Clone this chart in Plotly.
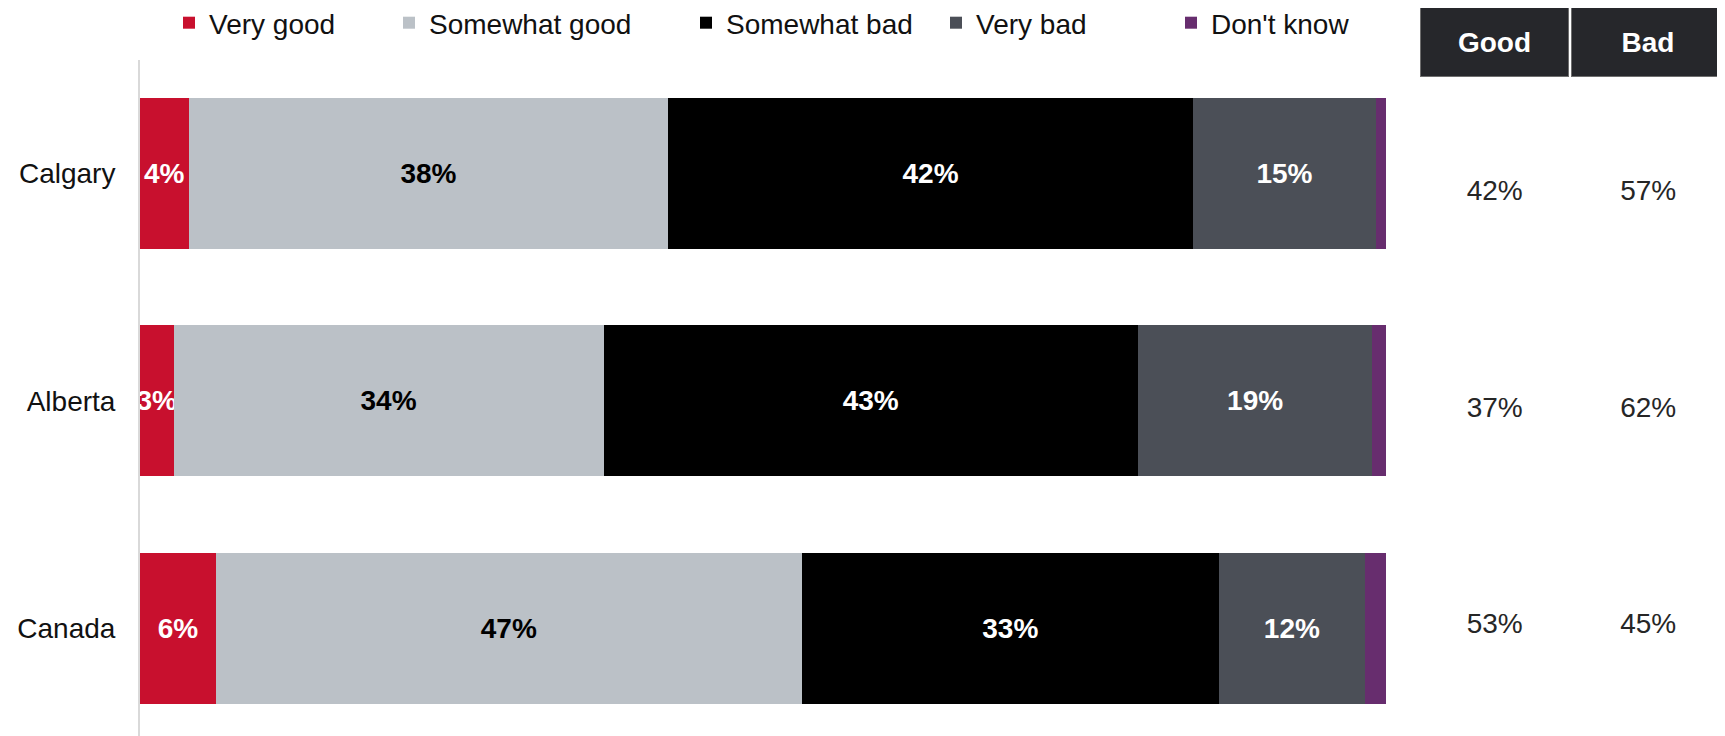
import plotly.graph_objects as go

# ---------------- data ----------------
categories = ["Calgary", "Alberta", "Canada"]

very_good = [3.9, 2.7, 6.1]
somewhat_good = [38.5, 34.5, 47.0]
somewhat_bad = [42.1, 42.9, 33.5]
very_bad = [14.7, 18.8, 11.7]
dont_know = [0.8, 1.1, 1.7]

very_good_lbl = [4, 3, 6]
somewhat_good_lbl = [38, 34, 47]
somewhat_bad_lbl = [42, 43, 33]
very_bad_lbl = [15, 19, 12]

net_columns = ["Good", "Bad"]
net_good = [42, 37, 53]
net_bad = [57, 62, 45]

series_names = ["Very good", "Somewhat good", "Somewhat bad", "Very bad", "Don't know"]

# ---------------- style ----------------
OFF = 8  # page body margin offset
W, H = 1725 - OFF, 736 - OFF
ML, MT = 140 - OFF, 60 - OFF
PLOT_W = W - ML
PLOT_H = H - MT
BAR_END = 1386 - OFF
FONT = "Liberation Sans, Arial, sans-serif"

colors = ["#C8102E", "#BBC1C7", "#000000", "#4B4F57", "#672D6E"]
text_colors = ["white", "black", "white", "white", "white"]
legend_text_start = [210, 430, 727, 977, 1212]

values = [very_good, somewhat_good, somewhat_bad, very_bad, dont_know]
labels = [very_good_lbl, somewhat_good_lbl, somewhat_bad_lbl, very_bad_lbl, None]

fig = go.Figure()

for i, (name, vals, lbls) in enumerate(zip(series_names, values, labels)):
    legend_id = "legend" if i == 0 else f"legend{i+1}"
    fig.add_trace(go.Bar(
        name=name,
        y=categories,
        x=vals,
        orientation="h",
        marker=dict(color=colors[i], line=dict(width=0)),
        text=[f"{v}%" for v in lbls] if lbls else None,
        textposition="inside" if lbls else "none",
        insidetextanchor="middle",
        textangle=0,
        textfont=dict(family=FONT, size=28, color=text_colors[i], weight="bold"),
        width=0.664,
        legend=legend_id,
        hoverinfo="skip",
    ))

# Net columns on the right
for col, vals in zip(net_columns, [net_good, net_bad]):
    fig.add_trace(go.Scatter(
        x=[col] * len(categories),
        y=categories,
        mode="text",
        text=[f"{v}%" for v in vals],
        textfont=dict(family=FONT, size=28, color="#262626"),
        xaxis="x2",
        yaxis="y2",
        showlegend=False,
        hoverinfo="skip",
        cliponaxis=False,
    ))

# header boxes
header_widths = [147, 152]
annotations = []
for j, col in enumerate(net_columns):
    annotations.append(dict(
        x=j, xref="x2", y=(H - (42 - OFF)) / PLOT_H, yref="paper",
        text=f"<b>{col}</b>", showarrow=False,
        font=dict(family=FONT, size=28, color="white"),
        bgcolor="#26272B", bordercolor="#6e6e6e", borderwidth=1, borderpad=0,
        width=header_widths[j], height=68, xanchor="center", yanchor="middle",
    ))

layout_legends = {}
for i, ts in enumerate(legend_text_start):
    key = "legend" if i == 0 else f"legend{i+1}"
    layout_legends[key] = dict(
        x=(ts - OFF - 41) / W, xref="container", xanchor="left",
        y=1 - (23 - OFF) / H, yref="container", yanchor="middle",
        orientation="h",
        font=dict(family=FONT, size=28, color="#111111"),
        bgcolor="rgba(0,0,0,0)", borderwidth=0,
        itemwidth=30,
    )

main_dom = (BAR_END - ML) / PLOT_W
net_dom_start = (1418 - OFF - ML) / PLOT_W

fig.update_layout(
    width=W, height=H,
    margin=dict(l=ML, r=0, t=MT, b=0, pad=0, autoexpand=False),
    barmode="stack",
    plot_bgcolor="white",
    paper_bgcolor="white",
    uniformtext=dict(minsize=28, mode="show"),
    xaxis=dict(domain=[0, main_dom], range=[0, 100], visible=False,
               fixedrange=True, automargin=False),
    yaxis=dict(
        type="category", range=[2.475, -0.5],
        showline=True, linecolor="#D9D9D9", linewidth=2,
        showgrid=False, zeroline=False, ticks="",
        ticklabelstandoff=17, automargin=False,
        tickfont=dict(family=FONT, size=28, color="#111111"),
    ),
    xaxis2=dict(domain=[net_dom_start, 1], range=[-0.5, 1.5], type="category",
                visible=False, anchor="y2", automargin=False),
    yaxis2=dict(domain=[0, 1], type="category", range=[2.508, -0.6144],
                visible=False, anchor="x2", automargin=False),
    annotations=annotations,
    hovermode=False,
    **layout_legends,
)

fig.write_html("out.html")
